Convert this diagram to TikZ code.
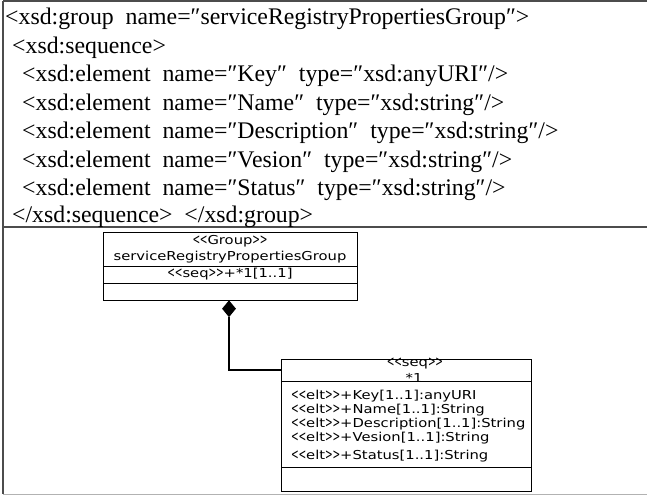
\documentclass[tikz,border=0pt]{standalone}
\usepackage{fontspec}
\usepackage{graphicx}
\setmainfont{Liberation Serif}
\newfontfamily\umlfont[FakeStretch=1.2]{DejaVu Sans}
\usetikzlibrary{shapes.geometric}
\newcommand\ltg{\smash{\scalebox{0.62}[1.2]{<}}}
\newcommand\gtg{\smash{\scalebox{0.62}[1.2]{>}}}
\newcommand\LLq{\ltg\kern-0.3pt\ltg}
\newcommand\GGq{\gtg\kern-0.3pt\gtg}
\tikzset{
  x=1pt, y=-1pt,
  frame/.style={draw=black!70, line width=1.4pt},
  xml/.style={anchor=base west, inner sep=0pt, font=\fontsize{23.8}{25}\selectfont},
  umlbox/.style={draw=black, line width=1.3pt, anchor=north west, inner sep=0pt},
  umldiv/.style={draw=black, line width=1pt},
  umltxt/.style={inner sep=0pt, font=\umlfont\fontsize{12.3}{13}\selectfont},
  attr/.style={umltxt, anchor=west},
  link/.style={draw=black, line width=1.2pt},
  comp/.style={diamond, fill=black, inner sep=0pt, minimum width=14pt, minimum height=17pt}
}
\begin{document}
\begin{tikzpicture}
\useasboundingbox (0,0) rectangle (647,496);
% outer table lines
\draw[frame] (3,1) -- (647,1);
\draw[frame] (3,1) -- (3,494);
\draw[frame] (3,227) -- (647,227);
\draw[draw=black!30, line width=1pt] (3,494) -- (647,494);
% XML text
\node[xml] (l1) at (5,24) {<xsd:group\ \ name=″serviceRegistryPropertiesGroup″>};
\node[xml] (l2) at (12,53) {<xsd:sequence>};
\node[xml] (l3) at (22,81.5) {<xsd:element\ \ name=″Key″\ \ type=″xsd:anyURI″/>};
\node[xml] (l4) at (22,110) {<xsd:element\ \ name=″Name″\ \ type=″xsd:string″/>};
\node[xml] (l5) at (22,138.5) {<xsd:element\ \ name=″Description″\ \ type=″xsd:string″/>};
\node[xml] (l6) at (22,167) {<xsd:element\ \ name=″Vesion″\ \ type=″xsd:string″/>};
\node[xml] (l7) at (22,195.5) {<xsd:element\ \ name=″Status″\ \ type=″xsd:string″/>};
\node[xml] (l8) at (12,222) {</xsd:sequence>\ \ </xsd:group>};
% group class
\node[umlbox, minimum width=254pt, minimum height=68pt] (grp) at (103,232) {};
\draw[umldiv] (grp.west |- 0,266) -- (grp.east |- 0,266);
\draw[umldiv] (grp.west |- 0,283) -- (grp.east |- 0,283);
\node[umltxt] (gst) at (230,241) {\LLq Group\GGq};
\node[umltxt] (gnm) at (230,257) {serviceRegistryPropertiesGroup};
\node[umltxt] (gat) at (230,274.5) {\LLq seq\GGq+*1[1..1]};
% sequence class
\node[umlbox, minimum width=250pt, minimum height=132pt] (seq) at (281,359) {};
\draw[umldiv] (seq.west |- 0,381) -- (seq.east |- 0,381);
\draw[umldiv] (seq.west |- 0,467) -- (seq.east |- 0,467);
\node[umltxt] (sst) at (415,364) {\LLq seq\GGq};
\node[umltxt] (snm) at (414,377.5) {*1};
\node[attr] (a1) at (291,396) {\LLq elt\GGq+Key[1..1]:anyURI};
\node[attr] (a2) at (291,410) {\LLq elt\GGq+Name[1..1]:String};
\node[attr] (a3) at (291,424) {\LLq elt\GGq+Description[1..1]:String};
\node[attr] (a4) at (291,438) {\LLq elt\GGq+Vesion[1..1]:String};
\node[attr] (a5) at (291,456) {\LLq elt\GGq+Status[1..1]:String};
% composition
\node[comp, anchor=north] (dia) at (229,300) {};
\coordinate (elbow) at (229,370);
\draw[link] (dia.south) -- (elbow) -- (elbow -| seq.west);
\end{tikzpicture}
\end{document}
